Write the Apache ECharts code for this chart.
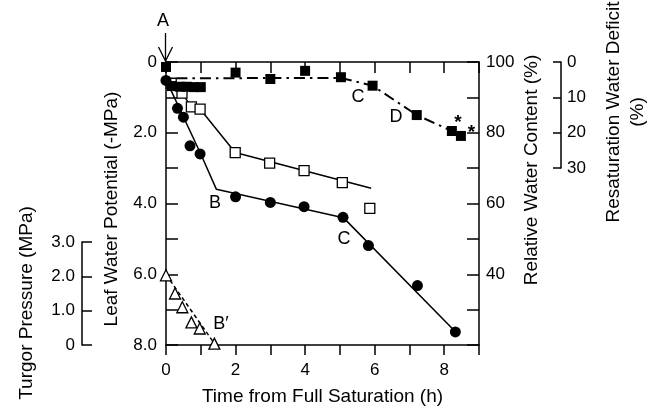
<!DOCTYPE html>
<html><head><meta charset="utf-8">
<script src="https://cdn.jsdelivr.net/npm/echarts@6/dist/echarts.min.js"></script>
<style>html,body{margin:0;padding:0;background:#fff}#c{width:655px;height:410px}</style>
</head><body><div id="c"></div>
<script>
// ---- data (time in h) ----
const circleTime = [0, 0.33, 0.5, 0.69, 0.98, 2.0, 3.0, 3.97, 5.09, 5.82, 7.23, 8.32];
const circleLWP  = [0.52, 1.31, 1.56, 2.37, 2.6, 3.81, 3.97, 4.09, 4.39, 5.19, 6.32, 7.63];
const circleFitTime = [0, 1.0, 1.45, 5.1, 8.33];
const circleFitLWP  = [0.5, 2.6, 3.6, 4.4, 7.63];

const openSqTime = [0.15, 0.46, 0.73, 0.98, 1.99, 2.98, 3.97, 5.07, 5.86];
const openSqLWP  = [0.6, 0.88, 1.27, 1.33, 2.56, 2.86, 3.07, 3.41, 4.14];
const openSqFitTime = [0.15, 0.46, 0.73, 0.98, 1.99, 5.9];
const openSqFitLWP  = [0.6, 0.88, 1.27, 1.33, 2.56, 3.57];

const filledSqTime = [0, 0.17, 0.4, 0.6, 0.8, 1.0, 2.0, 3.0, 4.0, 5.03, 5.94, 7.21, 8.22, 8.48];
const filledSqRWC  = [98.6, 93.2, 93.0, 93.0, 92.9, 92.9, 97.0, 95.2, 97.5, 95.7, 93.3, 85.0, 80.5, 79.1];
const rwcFitTime = [0.3, 5.03, 5.94, 7.21, 8.22, 8.48];
const rwcFitRWC  = [95.4, 95.5, 93.3, 85.0, 80.5, 79.1];

const turgorTime = [0, 0.26, 0.47, 0.73, 0.97, 1.39];
const turgorP    = [2.03, 1.5, 1.1, 0.66, 0.48, 0.04];
const turgorFitTime = [0, 1.42];
const turgorFitP    = [2.05, 0];

const xTickLabels = ['0', '2', '4', '6', '8'];
const lwpTickLabels = ['0', '2.0', '4.0', '6.0', '8.0'];
const rwcTickLabels = ['40', '60', '80', '100'];
const turgorTickLabels = ['0', '1.0', '2.0', '3.0'];
const rwdTickLabels = ['0', '10', '20', '30'];

// ---- chart ----
const FONT = 'Liberation Sans, Arial, Helvetica, sans-serif';
const black = '#000';
const zip = (a, b) => a.map((v, i) => [v, b[i]]);
const axisLine = { show: true, onZero: false, lineStyle: { color: black, width: 1.5 } };
const lbl = (extra) => Object.assign({ color: black, fontFamily: FONT, fontSize: 17 }, extra);

const chart = echarts.init(document.getElementById('c'), null, { renderer: 'canvas' });

const option = {
  animation: false,
  backgroundColor: '#fff',
  grid: [
    { left: 166, top: 62, width: 313, height: 283, outerBoundsMode: 'none' },
    { left: 166, top: 242, width: 313, height: 103, outerBoundsMode: 'none' },
    { left: 166, top: 62, width: 313, height: 106, outerBoundsMode: 'none' }
  ],
  xAxis: [
    { type: 'value', gridIndex: 0, position: 'bottom', min: 0, max: 9, interval: 1,
      axisLine, splitLine: { show: false },
      axisTick: { show: true, inside: false, length: 10, lineStyle: { color: black, width: 1.5 } },
      axisLabel: lbl({ margin: 17, formatter: v => (v % 2 === 0 && xTickLabels.includes(String(v))) ? String(v) : '' }),
      name: 'Time from Full Saturation (h)', nameLocation: 'middle', nameGap: 42,
      nameTextStyle: { color: black, fontFamily: FONT, fontSize: 19 } },
    { type: 'value', gridIndex: 0, position: 'top', min: 0, max: 9, interval: 1,
      axisLine, splitLine: { show: false },
      axisTick: { show: true, inside: true, length: 11, lineStyle: { color: black, width: 1.5 } },
      axisLabel: { show: false } },
    { type: 'value', gridIndex: 1, min: 0, max: 9, show: false },
    { type: 'value', gridIndex: 2, min: 0, max: 9, show: false }
  ],
  yAxis: [
    { type: 'value', gridIndex: 0, position: 'left', inverse: true, min: 0, max: 8, interval: 1,
      axisLine, splitLine: { show: false },
      axisTick: { show: true, inside: true, length: 12, lineStyle: { color: black, width: 1.5 } },
      axisLabel: lbl({ margin: 9, formatter: v => (v % 2 === 0) ? lwpTickLabels[v / 2] : '' }) },
    { type: 'value', gridIndex: 0, position: 'right', min: 20, max: 100, interval: 10,
      axisLine, splitLine: { show: false },
      axisTick: { show: true, inside: true, length: 12, lineStyle: { color: black, width: 1.5 } },
      axisLabel: lbl({ margin: 7, formatter: v => rwcTickLabels.includes(String(v)) ? String(v) : '' }) },
    { type: 'value', gridIndex: 1, position: 'left', offset: 84, min: 0, max: 3, interval: 1,
      axisLine, splitLine: { show: false },
      axisTick: { show: true, inside: true, length: 10, lineStyle: { color: black, width: 1.5 } },
      axisLabel: lbl({ margin: 7, formatter: v => turgorTickLabels[v] }) },
    { type: 'value', gridIndex: 2, position: 'right', offset: 82, inverse: true, min: 0, max: 30, interval: 10,
      axisLine, splitLine: { show: false },
      axisTick: { show: true, inside: true, length: 8, lineStyle: { color: black, width: 1.5 } },
      axisLabel: lbl({ margin: 6, formatter: v => rwdTickLabels[v / 10] }) }
  ],
  series: [
    { type: 'line', name: 'circle fit', xAxisIndex: 0, yAxisIndex: 0, data: zip(circleFitTime, circleFitLWP),
      showSymbol: false, symbol: 'none', lineStyle: { color: black, width: 1.5 }, z: 2, clip: false },
    { type: 'line', name: 'open square fit', xAxisIndex: 0, yAxisIndex: 0, data: zip(openSqFitTime, openSqFitLWP),
      showSymbol: false, symbol: 'none', lineStyle: { color: black, width: 1.5 }, z: 2, clip: false },
    { type: 'line', name: 'RWC fit', xAxisIndex: 0, yAxisIndex: 1, data: zip(rwcFitTime, rwcFitRWC),
      showSymbol: false, symbol: 'none', lineStyle: { color: black, width: 2, type: [11, 5, 2.5, 5] }, z: 2, clip: false },
    { type: 'line', name: 'turgor fit', xAxisIndex: 2, yAxisIndex: 2, data: zip(turgorFitTime, turgorFitP),
      showSymbol: false, symbol: 'none', lineStyle: { color: black, width: 1.5, type: [4, 3] }, z: 2, clip: false },
    { type: 'scatter', name: 'open squares', xAxisIndex: 0, yAxisIndex: 0, data: zip(openSqTime, openSqLWP),
      symbol: 'rect', symbolSize: 10, itemStyle: { color: '#fff', borderColor: black, borderWidth: 1.3, opacity: 1 }, z: 3, clip: false },
    { type: 'scatter', name: 'filled squares', xAxisIndex: 0, yAxisIndex: 1, data: zip(filledSqTime, filledSqRWC),
      symbol: 'rect', symbolSize: 10, itemStyle: { color: black, opacity: 1 }, z: 4, clip: false },
    { type: 'scatter', name: 'circles', xAxisIndex: 0, yAxisIndex: 0, data: zip(circleTime, circleLWP),
      symbol: 'circle', symbolSize: 11, itemStyle: { color: black, opacity: 1 }, z: 5, clip: false },
    { type: 'scatter', name: 'triangles', xAxisIndex: 2, yAxisIndex: 2, data: zip(turgorTime, turgorP),
      symbol: 'triangle', symbolSize: 11, itemStyle: { color: '#fff', borderColor: black, borderWidth: 1.3, opacity: 1 }, z: 5, clip: false }
  ],
  graphic: []
};

const txt = (text, x, y, size, rot, extra, weight) => Object.assign({
  type: 'text', x, y, rotation: rot || 0, z: 100,
  style: { text, fill: black, font: (weight ? weight + ' ' : '') + size + 'px ' + FONT,
           align: 'center', verticalAlign: 'middle', textAlign: 'center', textVerticalAlign: 'middle' }
}, extra || {});

option.graphic = [
  txt('Leaf Water Potential (-MPa)', 112, 209, 19, Math.PI / 2),
  txt('Relative Water Content (%)', 532, 170, 19, Math.PI / 2),
  txt('Turgor Pressure (MPa)', 27, 303, 19, Math.PI / 2),
  txt('Resaturation Water Deficit\n(%)', 626, 112, 19, Math.PI / 2, { style: { text: 'Resaturation Water Deficit\n(%)', fill: black, font: '19px ' + FONT, lineHeight: 24, align: 'center', verticalAlign: 'middle', textAlign: 'center', textVerticalAlign: 'middle' } }),
  txt('A', 163, 21, 18),
  txt('B', 215, 203, 18),
  txt('C', 344, 239, 18),
  txt('C', 358, 97, 18),
  txt('D', 396, 117, 18),
  txt('B\u2032', 221, 324, 18),
  txt('*', 458, 123, 19, 0, null, 'bold'),
  txt('*', 471.5, 133, 19, 0, null, 'bold'),
  { type: 'line', z: 100, shape: { x1: 165.5, y1: 33, x2: 165.5, y2: 61 }, style: { stroke: black, lineWidth: 1.3 } },
  { type: 'polyline', z: 100, shape: { points: [[158.5, 47], [165.5, 61], [172.5, 47]] }, style: { stroke: black, lineWidth: 1.3, fill: null } }
];

chart.setOption(option);
</script>
</body></html>
